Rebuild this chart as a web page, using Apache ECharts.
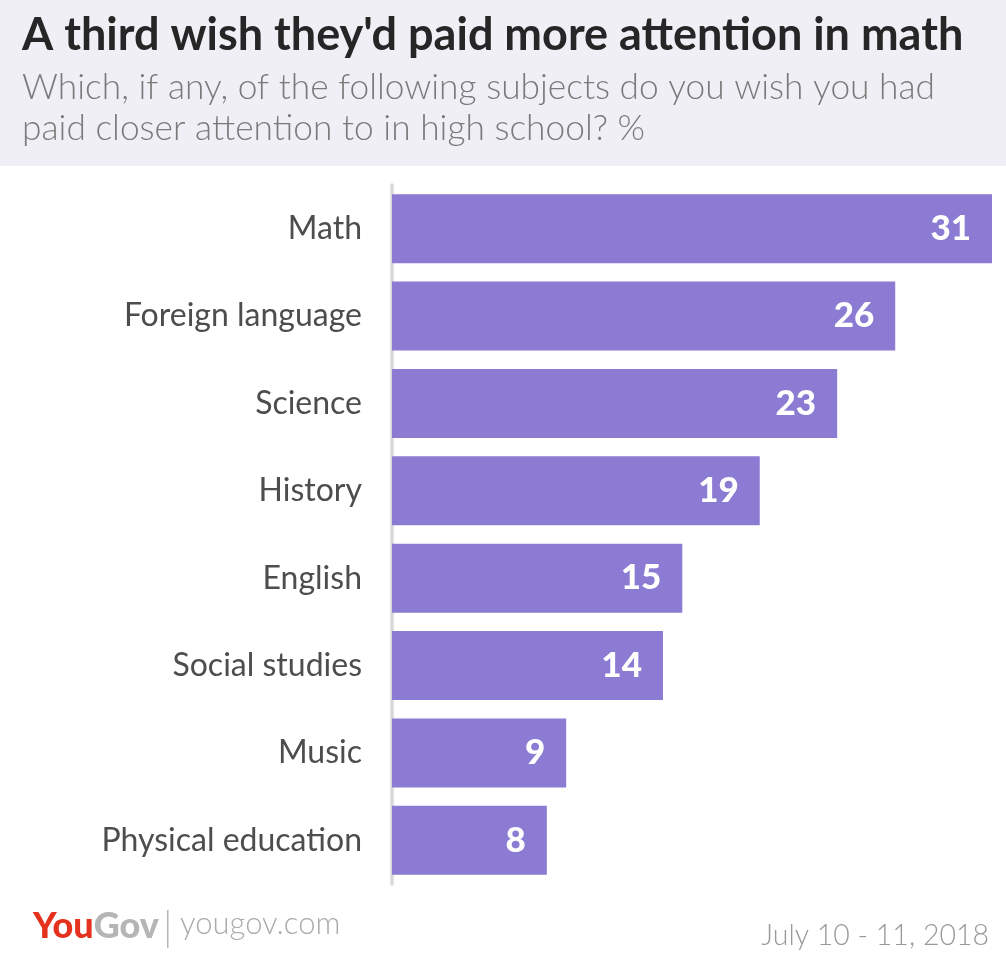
<!DOCTYPE html>
<html>
<head>
<meta charset="utf-8">
<script src="https://cdn.jsdelivr.net/npm/echarts@6/dist/echarts.min.js"></script>
<style>
html,body{margin:0;padding:0;background:#fff;}
#chart{width:1006px;height:960px;}
</style>
</head>
<body>
<div id="chart"></div>
<script>
const categories = ["Math", "Foreign language", "Science", "History", "English", "Social studies", "Music", "Physical education"];
const values = [31, 26, 23, 19, 15, 14, 9, 8];
const titleText = "A third wish they'd paid more attention in math";
const subtitleText = "Which, if any, of the following subjects do you wish you had\npaid closer attention to in high school? %";
const dateText = "July 10 - 11, 2018";

const chart = echarts.init(document.getElementById('chart'));
const FONT = 'Lato';
chart.setOption({
  backgroundColor: '#ffffff',
  animation: false,
  title: {
    text: titleText,
    subtext: subtitleText,
    left: 22,
    top: 9,
    padding: 0,
    itemGap: 6,
    textStyle: {fontFamily: FONT, fontSize: 45, fontWeight: 'bold', color: '#262626', lineHeight: 52},
    subtextStyle: {fontFamily: FONT, fontSize: 35.3, fontWeight: 300, color: '#7a7a7a', lineHeight: 41}
  },
  graphic: [
    {type: 'rect', z: -10, shape: {x: 0, y: 0, width: 1006, height: 166}, style: {fill: '#f1eff6'}},
    {type: 'text', left: 33, top: 908, style: {
      text: '{a|You}{b|Gov}',
      rich: {
        a: {fontFamily: FONT, fontSize: 36, fontWeight: 900, fill: '#e5321f', color: '#e5321f'},
        b: {fontFamily: FONT, fontSize: 36, fontWeight: 900, fill: '#b5b5b5', color: '#b5b5b5'}
      }
    }},
    {type: 'rect', shape: {x: 167, y: 910, width: 1.5, height: 38}, style: {fill: '#b5b5b5'}},
    {type: 'text', left: 180, top: 908, style: {text: 'yougov.com', fontFamily: FONT, fontSize: 31, fontWeight: 300, fill: '#ababab'}},
    {type: 'text', right: 17, top: 921, style: {text: dateText, fontFamily: FONT, fontSize: 28.5, fontWeight: 300, fill: '#9a9a9a'}}
  ],
  grid: {left: 392, right: 14, top: 185, bottom: 76},
  xAxis: {
    type: 'value', min: 0, max: 31,
    show: false
  },
  yAxis: {
    type: 'category',
    data: categories,
    inverse: true,
    offset: 2,
    axisLine: {show: true, lineStyle: {color: '#d9d9d9', width: 3.5}},
    axisTick: {show: false},
    axisLabel: {fontFamily: FONT, fontSize: 32, color: '#4d4d4d', margin: 28}
  },
  series: [{
    type: 'bar',
    data: values,
    barCategoryGap: '21%',
    itemStyle: {color: '#8b7bd2'},
    label: {
      show: true, position: 'insideRight', distance: 21,
      fontFamily: FONT, fontSize: 35, fontWeight: 900, color: '#ffffff'
    }
  }]
});
</script>
</body>
</html>
